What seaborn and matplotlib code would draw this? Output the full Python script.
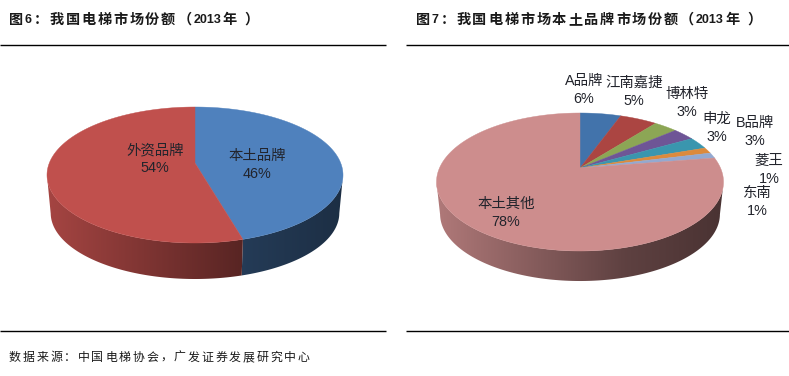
import numpy as np
import matplotlib
matplotlib.use("Agg")
import matplotlib.pyplot as plt
from matplotlib.colors import to_rgb
from matplotlib.patches import Polygon
import seaborn as sns

sns.set_theme(style="white")
FONT = ['Liberation Sans', 'Noto Sans CJK SC']
plt.rcParams['font.family'] = FONT

# данные
title_left = ["图", "6", "：", "我", "国", "电", "梯", "市", "场", "份", "额", "（", "2013", "年", "）"]
title_right = ["图", "7", "：", "我", "国", "电", "梯", "市", "场", "本", "土", "品", "牌", "市", "场", "份", "额", "（", "2013", "年", "）"]
source_text = "数据来源：中国电梯协会，广发证券发展研究中心"

share_names = ["本土品牌", "外资品牌"]
share_values = [45.6, 54.4]
share_colors = ["#4f81bd", "#c0504d"]

local_names = ["A品牌", "江南嘉捷", "博林特", "申龙", "B品牌", "菱王", "东南", "本土其他"]
local_values = [5.6, 5.1, 3.2, 3.0, 2.9, 1.4, 1.3, 77.5]
local_colors = ["#4273ab", "#ab4542", "#8ca655", "#6e5596", "#3a96ae", "#dc8a3c", "#94a9d0", "#cd8d8d"]

# положение подписей, пиксели
share_pos = [(257, 156), (155, 150)]
local_pos = [(584, 81), (634, 83), (687, 94), (717, 119), (755, 123), (769, 161), (757, 193), (506, 204)]

fig = plt.figure(figsize=(7.89, 3.76), dpi=100)
ax = fig.add_axes([0, 0, 1, 1])


def draw_pie(values, colors, cx, cy, up, down, half_w, depth):
    # перспектива: круг проецируется в эллипс, центр смещён вверх
    k = (down - up) / (down + up)
    a = up * (1 + k)
    b = half_w * np.sqrt(1 - k ** 2)

    def project(theta):
        u, v = np.cos(theta), np.sin(theta)
        den = 1 + k * v
        return cx + b * u / den, cy - a * v / den

    wedges, _ = ax.pie(values, colors=colors, startangle=90, counterclock=False)
    arcs = [np.radians(np.linspace(w.theta1, w.theta2, 400)) for w in wedges]
    for w in wedges:
        w.remove()

    # боковая стенка с градиентом слева направо
    grid = np.linspace(cx - half_w, cx + half_w, 300)
    shade = np.interp((grid - grid[0]) / (grid[-1] - grid[0]), [0, 0.66, 1], [0.86, 0.46, 0.36])
    for theta, col in zip(arcs, colors):
        # видимая часть стенки начинается от крайних точек эллипса
        front = theta[np.sin(theta) <= -k]
        if len(front) < 2:
            continue
        x, y = project(front)
        xb = cx + (x - cx) * 0.975
        yb = cy + (y - cy) * 0.97 + depth
        outline = np.vstack([np.column_stack([x, y]), np.column_stack([xb, yb])[::-1]])
        clip = Polygon(outline, closed=True, transform=ax.transData, facecolor="none", edgecolor="none")
        ax.add_patch(clip)
        rgb = np.outer(shade, to_rgb(col))[np.newaxis, :, :]
        im = ax.imshow(rgb, extent=(grid[0], grid[-1], cy + down + depth + 5, cy - up), aspect="auto", zorder=2)
        im.set_clip_path(clip)

    # верхняя грань
    for theta, col in zip(arcs, colors):
        x, y = project(theta)
        pts = np.vstack([[cx, cy], np.column_stack([x, y])])
        ax.add_patch(Polygon(pts, closed=True, facecolor=col, edgecolor=col, linewidth=0.3, zorder=3))


def spaced_text(tokens, x, y, size, gap, weight="normal", color="#1a1a1a"):
    # иероглифы идут с разрядкой, цифры одним куском и чуть мельче
    px = size * 100 / 72
    r = fig.canvas.get_renderer()
    for tok in tokens:
        if tok == "）":
            x += 6
        if ord(tok[0]) > 0x2E80:
            ax.text(x, y, tok, fontsize=size, fontweight=weight, color=color, va="center", ha="left", zorder=5)
            x += px + gap
        else:
            t = ax.text(x, y, tok, fontsize=size * 0.88, fontweight=weight, color=color, va="center", ha="left", zorder=5)
            x += t.get_window_extent(r).width + 1.5


def labels(names, values, pos):
    for name, val, (x, y) in zip(names, values, pos):
        ax.text(x, y, name, fontsize=10.4, ha="center", va="center", color="#22242c", zorder=5)
        ax.text(x, y + 18, f"{val:.0f}%", fontsize=10.4, ha="center", va="center", color="#22242c", zorder=5)


draw_pie(share_values, share_colors, 195, 163, 56, 80, 148, 38.4)
draw_pie(local_values, local_colors, 580, 168, 55, 83, 143.5, 32.5)

labels(share_names, share_values, share_pos)
labels(local_names, local_values, local_pos)

spaced_text(title_left, 9, 20, 10.2, 1.8, weight="bold")
spaced_text(title_right, 416, 20, 10.2, 1.8, weight="bold")
spaced_text(list(source_text), 9, 358, 8.6, 1.8)

for x0, x1 in [(0, 386), (406, 789)]:
    for y in [45, 331]:
        ax.plot([x0, x1], [y, y], color="black", lw=1, solid_capstyle="butt", zorder=4)

ax.set_aspect("auto")
ax.set_xlim(0, 789)
ax.set_ylim(376, 0)
ax.set_axis_off()

fig.savefig("out.png", dpi=100)
plt.close(fig)
